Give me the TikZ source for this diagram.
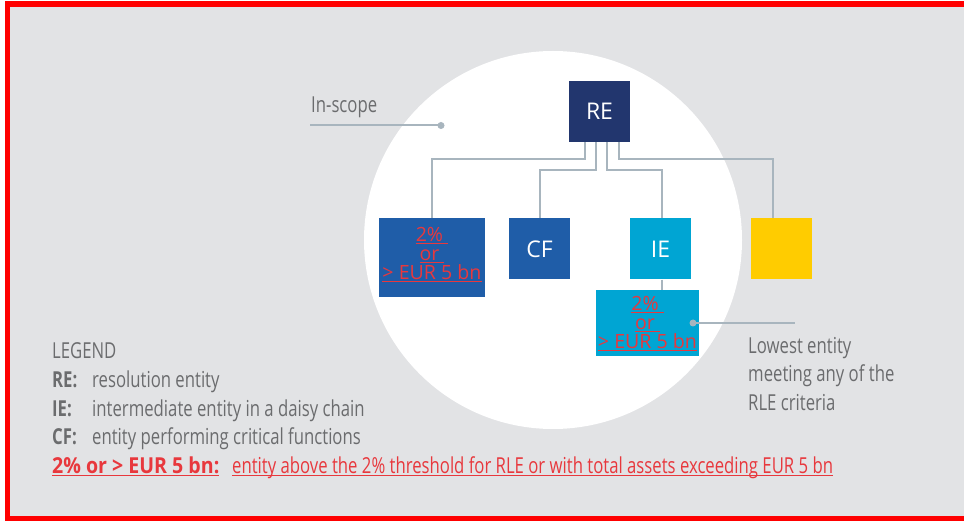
\documentclass[tikz,border=0pt]{standalone}
\usepackage{fontspec}
\setmainfont[FakeStretch=0.76]{Open Sans}
\newfontfamily\boxfont{Open Sans}
\newfontfamily\keyfont[FakeStretch=0.89]{Open Sans}
\usetikzlibrary{positioning}

\definecolor{bggray}{HTML}{E2E3E5}
\definecolor{renavy}{HTML}{22366E}
\definecolor{cfblue}{HTML}{1F5DA8}
\definecolor{iecyan}{HTML}{00A5D3}
\definecolor{rleyellow}{HTML}{FFCC00}
\definecolor{linkgray}{HTML}{A8B5BE}
\definecolor{txtgray}{HTML}{6B6C6E}
\definecolor{rlered}{HTML}{E8383D}

% underline close to the baseline
\newcommand{\redline}[1]{\setbox0\hbox{#1}\rlap{\rule[-2.8pt]{\wd0}{1.3pt}}\box0}

\begin{document}
\begin{tikzpicture}[
  x=1pt, y=-1pt, % pixel grid of the picture, y downwards
  entity/.style={minimum width=61pt, minimum height=61pt, inner sep=0pt,
                 text=white, font=\boxfont\fontsize{23}{26}\selectfont},
  rlebox/.style={inner sep=0pt, align=center, text=rlered,
                 font=\boxfont\fontsize{19.6}{19}\selectfont},
  link/.style={draw=linkgray, line width=2pt},
  note/.style={text=txtgray, inner sep=0pt, anchor=base west,
               font=\fontsize{22}{28.5}\selectfont}
]
  \useasboundingbox (0,0) rectangle (964,521);

  % background and frame
  \fill[bggray] (10,7) rectangle (964,516);
  \draw[red, line width=5.5pt] (975,4) -- (7.5,4) -- (7.5,518.5) -- (975,518.5);

  % in-scope circle
  \fill[white] (553,240) circle (189pt);

  % entities
  \node[entity, fill=renavy] (re) at (599.5,111.5) {RE};
  \node[rlebox, fill=cfblue, minimum width=106pt, minimum height=79pt, text depth=8pt] (rleA) at (432,257.5)
    {\redline{2\%~}\\\redline{or~}\\\redline{> EUR 5 bn}};
  \node[entity, fill=cfblue] (cf) at (539.5,249) {CF};
  \node[entity, fill=iecyan] (ie) at (660.5,249) {IE};
  \node[entity, fill=rleyellow] (yel) at (781.5,249) {};
  \node[rlebox, fill=iecyan, minimum width=103pt, minimum height=66pt, text depth=1pt] (rleB) at (647.5,323)
    {\redline{2\%~}\\\redline{or~}\\\redline{> EUR 5 bn}};

  % links from RE
  \draw[link] ([xshift=-14.5pt]re.south) -- ++(0,17) -| (rleA.north);
  \draw[link] ([xshift=-3.5pt]re.south) -- ++(0,28) -| (cf.north);
  \draw[link] ([xshift=7.5pt]re.south) -- ++(0,28) -| ([xshift=1.5pt]ie.north);
  \draw[link] ([xshift=19.5pt]re.south) -- ++(0,17) -| ([xshift=-8.5pt]yel.north);
  \draw[link] ([xshift=1.5pt]ie.south) -- ([xshift=1.5pt]ie.south |- rleB.north);

  % callouts
  \coordinate (scopeend) at (310,125.5);
  \coordinate (scopedot) at (441,125.5);
  \draw[link] (scopeend) -- (scopedot);
  \fill[linkgray] (scopedot) circle (3.5pt);
  \node[note] (scope) at (311,113) {In-scope};

  \coordinate (lowdot) at (693,323);
  \coordinate (lowend) at (795,323);
  \draw[link] (lowdot) -- (lowend);
  \fill[linkgray] (lowdot) circle (3.5pt);
  \foreach \t/\y [count=\i] in {Lowest entity/353, meeting any of the/381.5, RLE criteria/410} {
    \node[note] (lowest\i) at (748,\y) {\t};
  }

  % legend
  \node[note] (legend) at (52,359) {LEGEND};
  \foreach \k/\d/\y [count=\i] in {RE:/resolution entity/387,
      IE:/intermediate entity in a daisy chain/416,
      CF:/entity performing critical functions/444.5} {
    \node[note] (key\i) at (52,\y) {\textbf{\k}};
    \node[note] (desc\i) at (92,\y) {\d};
  }
  \node[note, text=rlered] (keyrle) at (52,473) {\keyfont\redline{\textbf{2\% or > EUR 5 bn:}}};
  \node[note, text=rlered] (descrle) at (232,473)
    {\redline{entity above the 2\% threshold for RLE or with total assets exceeding EUR 5 bn}};
\end{tikzpicture}
\end{document}
